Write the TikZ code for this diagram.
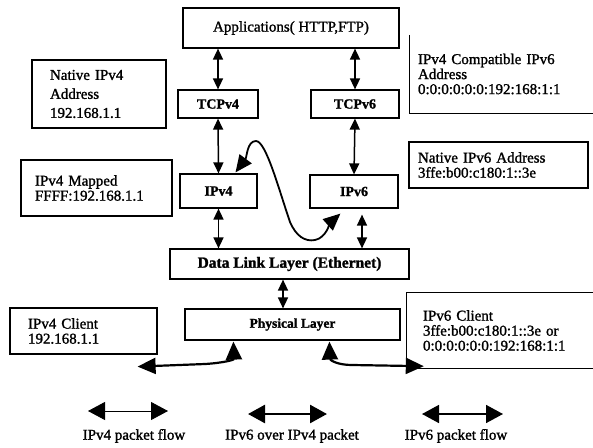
\documentclass[tikz,border=0pt]{standalone}
\usepackage{fontspec}
\setmainfont{Liberation Serif}[FakeBold=1.4]
\usetikzlibrary{arrows.meta,calc}
\tikzset{
  box/.style={draw, line width=1.2pt, inner sep=0pt, align=center},
  addr/.style={inner ysep=0pt, align=left},
  layer/.style={font=\fontsize{14}{14}\selectfont\bfseries},
  vlink/.style={line width=1.5pt, {Triangle[length=11pt,width=10pt]}-{Triangle[length=11pt,width=10pt]}},
  tunnel/.style={line width=1.8pt, {Triangle[length=17pt,width=15pt]}-{Triangle[length=17pt,width=15pt]}},
  wire/.style={line width=2.2pt, {Triangle[length=18pt,width=16pt]}-{Triangle[length=18pt,width=16pt]}},
  keythin/.style={line width=0.8pt, {Triangle[length=17pt,width=18pt]}-{Triangle[length=17pt,width=18pt]}},
  keythick/.style={line width=2.6pt, {Triangle[length=17pt,width=18pt]}-{Triangle[length=17pt,width=18pt]}},
  keymid/.style={line width=1.6pt, {Triangle[length=17pt,width=18pt]}-{Triangle[length=17pt,width=18pt]}},
  keytext/.style={inner sep=0pt}
}
\begin{document}
\begin{tikzpicture}[x=1pt, y=-1pt, font=\fontsize{15}{15}\selectfont]
\useasboundingbox (0,0) rectangle (593,447);

% protocol stack
\node[box, minimum width=216pt, minimum height=40pt] (app) at (291,28) {Applications( HTTP,FTP)};
\node[box, layer, minimum width=80pt, minimum height=28pt] (tcp4) at (218,104) {TCPv4};
\node[box, layer, minimum width=88pt, minimum height=28pt] (tcp6) at (355,104) {TCPv6};
\node[box, layer, minimum width=77pt, minimum height=34pt] (ip4) at (218.5,191) {IPv4};
\node[box, layer, minimum width=88pt, minimum height=33pt] (ip6) at (354,191.5) {IPv6};
\node[box, minimum width=239pt, minimum height=30pt, font=\fontsize{15.5}{15.5}\selectfont\bfseries] (dl) at (289.5,264) {Data Link Layer (Ethernet)};
\node[box, minimum width=215pt, minimum height=31pt, font=\fontsize{13.5}{13.5}\selectfont\bfseries] (phy) at (292.5,324.5) {Physical Layer};

% address boxes
\node[box, addr, minimum height=68pt, inner xsep=18pt, text width=98pt, font=\fontsize{15}{19}\selectfont] (nv4) at (99,94)
  {Native IPv4\\Address\\192.168.1.1};
\node[box, addr, minimum height=56pt, inner xsep=14pt, text width=123pt] (map) at (96.5,188)
  {IPv4 Mapped\\FFFF:192.168.1.1};
\node[addr, minimum height=78pt, inner xsep=8pt, text width=167pt] (cmp) at (501.5,74)
  {IPv4 Compatible IPv6\\Address\\0:0:0:0:0:0:192:168:1:1};
\draw[line width=1.2pt] (cmp.north west) -- (cmp.south west) -- (cmp.south east);
\node[box, addr, minimum height=46pt, inner xsep=9pt, text width=161pt] (nv6) at (498.5,165)
  {Native IPv6 Address\\3ffe:b00:c180:1::3e};
\node[box, addr, minimum height=46pt, inner xsep=18pt, text width=111pt] (c4) at (83.5,331)
  {IPv4 Client\\192.168.1.1};
\node[addr, minimum height=75pt, inner xsep=16pt, text width=154pt] (c6) at (500,330.5)
  {IPv6 Client\\3ffe:b00:c180:1::3e or\\0:0:0:0:0:0:192:168:1:1};
\draw[line width=1.2pt] (c6.north east) -- (c6.north west) -- (c6.south west) -- (c6.south east);

% links between layers
\coordinate (dlx) at (283,0);
\coordinate (v6x) at (362,0);
\draw[vlink] (app.south -| tcp4.north) -- (tcp4.north);
\draw[vlink] (app.south -| tcp6.north) -- (tcp6.north);
\draw[vlink] (tcp4.south) -- (ip4.north);
\draw[vlink] (tcp6.south) -- (ip6.north);
\draw[vlink] (ip4.south) -- (dl.north -| ip4.south);
\draw[vlink] ($(ip6.south -| v6x)+(0,6)$) -- (dl.north -| v6x);
\draw[vlink] (dl.south -| dlx) -- (phy.north -| dlx);

% IPv6 carried over IPv4
\draw[tunnel] ($(ip4.north)+(17,-1)$) .. controls (247,157) and (247,141) .. (256,141)
  .. controls (266,141) and (279,190) .. (290,222)
  .. controls (296,236) and (305,242) .. (315,240)
  .. controls (326,238) and (331,222) .. ($(ip6.south west)+(31,5)$);

% clients attached to the physical layer
\draw[wire] ($(c4.south east)+(-20,12)$) -- (205,364) .. controls (222,363) and (234,360) .. ($(phy.south west)+(49,1)$);
\draw[wire] ($(phy.south west)+(145,1)$) .. controls (330,360) and (337,365) .. (352,365) -- ($(c6.south west)+(17,-2)$);

% legend
\coordinate (k1a) at (88,411);  \coordinate (k1b) at (168,411);
\coordinate (k2a) at (248,414); \coordinate (k2b) at (327,414);
\coordinate (k3a) at (422,414); \coordinate (k3b) at (503,414);
\draw[keythin] (k1a) -- (k1b);
\draw[keythick] (k2a) -- (k2b);
\draw[keymid] (k3a) -- (k3b);
\node[keytext] (t1) at (134,436) {IPv4 packet flow};
\node[keytext] (t2) at (292,436) {IPv6 over IPv4 packet};
\node[keytext] (t3) at (456,436) {IPv6 packet flow};
\end{tikzpicture}
\end{document}
